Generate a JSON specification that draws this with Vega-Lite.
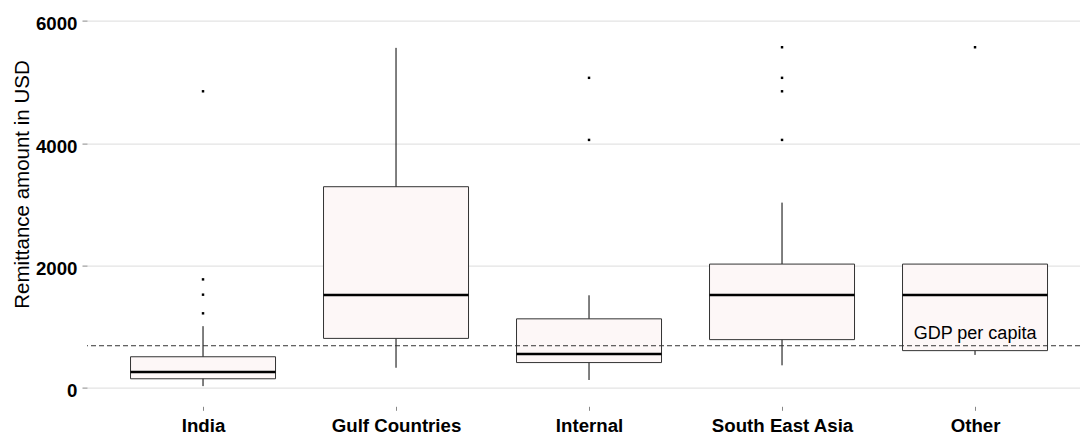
{
  "$schema": "https://vega.github.io/schema/vega-lite/v6.json",
  "autosize": {"type": "none"},
  "padding": {"left": 87, "top": 2.6, "right": 0, "bottom": 27.7},
  "width": 993,
  "height": 403.7,
  "background": "white",
  "config": {
    "view": {"stroke": null},
    "font": "Liberation Sans",
    "axis": {"labelFont": "Liberation Sans", "titleFont": "Liberation Sans"}
  },
  "datasets": {
    "boxes": [
      {"region": "India", "lower": 30, "q1": 150, "median": 260, "q3": 510, "upper": 1010},
      {"region": "Gulf Countries", "lower": 330, "q1": 810, "median": 1520, "q3": 3290, "upper": 5560},
      {"region": "Internal", "lower": 130, "q1": 415, "median": 555, "q3": 1130, "upper": 1515},
      {"region": "South East Asia", "lower": 370, "q1": 790, "median": 1520, "q3": 2025, "upper": 3030},
      {"region": "Other", "lower": 540, "q1": 610, "median": 1520, "q3": 2025, "upper": 2025}
    ],
    "outliers": [
      {"region": "India", "amount": 1220},
      {"region": "India", "amount": 1525},
      {"region": "India", "amount": 1775},
      {"region": "India", "amount": 4850},
      {"region": "Internal", "amount": 4055},
      {"region": "Internal", "amount": 5070},
      {"region": "South East Asia", "amount": 4055},
      {"region": "South East Asia", "amount": 4850},
      {"region": "South East Asia", "amount": 5070},
      {"region": "South East Asia", "amount": 5570},
      {"region": "Other", "amount": 5570}
    ],
    "gdp": [
      {"region": "Other", "value": 690, "label": "GDP per capita"}
    ]
  },
  "encoding": {
    "x": {
      "field": "region",
      "type": "nominal",
      "sort": ["India", "Gulf Countries", "Internal", "South East Asia", "Other"],
      "scale": {"type": "point", "padding": 0.5725, "align": 0.525},
      "axis": {
        "title": null,
        "labelAngle": 0,
        "labelFontSize": 18.67,
        "labelFontWeight": "bold",
        "labelColor": "#000000",
        "labelBaseline": "alphabetic",
        "labelPadding": 21.5,
        "tickSize": 4,
        "tickColor": "#888888",
        "domain": false,
        "grid": false
      }
    }
  },
  "layer": [
    {
      "data": {"name": "boxes"},
      "mark": {"type": "rule", "color": "#000000", "strokeWidth": 1},
      "encoding": {
        "y": {
          "field": "lower",
          "type": "quantitative",
          "scale": {"domain": [-300, 6300], "nice": false, "zero": false},
          "axis": {
            "title": "Remittance amount in USD",
            "titleFontSize": 20.5,
            "titleFontWeight": "normal",
            "titleColor": "#000000",
            "titleAngle": 270,
            "titleAlign": "center",
            "titleBaseline": "alphabetic",
            "titleX": -59,
            "titleY": 181.4,
            "values": [0, 2000, 4000, 6000],
            "format": "d",
            "labelFontSize": 18.67,
            "labelFontWeight": "bold",
            "labelColor": "#000000",
            "labelBaseline": "alphabetic",
            "labelOffset": 9,
            "labelPadding": 5,
            "tickSize": 5,
            "tickColor": "#888888",
            "domain": false,
            "grid": true,
            "gridColor": "#dcdcdc",
            "gridWidth": 1
          }
        },
        "y2": {"field": "upper"}
      }
    },
    {
      "data": {"name": "boxes"},
      "mark": {"type": "bar", "size": 145, "fill": "#fdf7f7", "stroke": "#333333", "strokeWidth": 1},
      "encoding": {
        "y": {"field": "q1", "type": "quantitative"},
        "y2": {"field": "q3"}
      }
    },
    {
      "data": {"name": "boxes"},
      "mark": {"type": "tick", "size": 145, "thickness": 2.5, "color": "#000000", "opacity": 1},
      "encoding": {
        "y": {"field": "median", "type": "quantitative"}
      }
    },
    {
      "data": {"name": "outliers"},
      "mark": {"type": "point", "filled": true, "size": 6, "color": "#000000", "opacity": 1, "shape": "square"},
      "encoding": {
        "y": {"field": "amount", "type": "quantitative"}
      }
    },
    {
      "data": {"name": "gdp"},
      "mark": {"type": "rule", "color": "#333333", "strokeWidth": 1, "strokeDash": [5, 3]},
      "encoding": {
        "x": null,
        "y": {"field": "value", "type": "quantitative"}
      }
    },
    {
      "data": {"name": "gdp"},
      "mark": {"type": "text", "fontSize": 18, "font": "Liberation Sans", "color": "#000000", "align": "center", "baseline": "alphabetic", "dy": -6.5},
      "encoding": {
        "y": {"field": "value", "type": "quantitative"},
        "text": {"field": "label"}
      }
    }
  ]
}
